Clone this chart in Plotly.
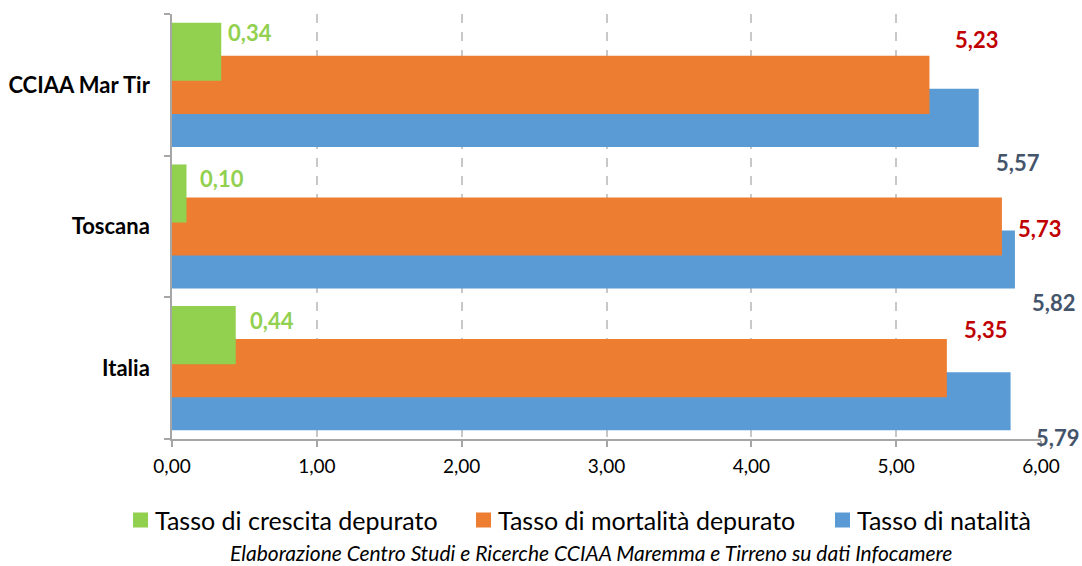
import plotly.graph_objects as go

# Data: territories (bottom to top) and the three rates
categories = ["Italia", "Toscana", "CCIAA Mar Tir"]
crescita = [0.44, 0.10, 0.34]
mortalita = [5.35, 5.73, 5.23]
natalita = [5.79, 5.82, 5.57]
x_ticks = [0, 1, 2, 3, 4, 5, 6]

series_names = ["Tasso di crescita depurato", "Tasso di mortalità depurato", "Tasso di natalità"]

# Styling
FONT = "Lato"
GREEN, ORANGE, BLUE = "#92D050", "#ED7D31", "#5B9BD5"
LABEL_GREEN, LABEL_RED, LABEL_BLUE = "#92D050", "#C00000", "#44546A"
BAR_W = 0.41

def fmt(v):
    return f"{v:.2f}".replace(".", ",")

fig = go.Figure()

# Drawn blue first, then orange, then green so the upper bars overlap the lower ones
bar_specs = [
    (series_names[2], natalita, BLUE, -0.438),
    (series_names[1], mortalita, ORANGE, -0.205),
    (series_names[0], crescita, GREEN, 0.028),
]
for name, vals, col, off in bar_specs:
    fig.add_trace(go.Bar(
        y=categories, x=vals, orientation="h", name=name,
        marker=dict(color=col, line=dict(width=0)),
        width=BAR_W, offset=off, showlegend=False,
    ))

# Value labels: pixel shifts from the bar end (dx) and category centre (dy, upward)
label_specs = [
    (crescita, LABEL_GREEN, [36, 36, 29], [48, 48, 52]),
    (mortalita, LABEL_RED, [39, 38, 47], [39, -2, 45]),
    (natalita, LABEL_BLUE, [47, 39, 39], [-69, -76, -78]),
]
for vals, col, dxs, dys in label_specs:
    for cat, v, dx, dy in zip(categories, vals, dxs, dys):
        fig.add_annotation(
            x=v, y=cat, xref="x", yref="y", text=f"<b>{fmt(v)}</b>",
            showarrow=False, xanchor="center", yanchor="middle",
            xshift=dx, yshift=dy,
            font=dict(family=FONT, size=22, color=col, weight="bold"),
        )

# Legend drawn as coloured squares with text
legend_items = [
    (series_names[0], GREEN, 133),
    (series_names[1], ORANGE, 476),
    (series_names[2], BLUE, 835),
]
W, H = 1082, 566
L, R, T, B = 172, 41, 14, 127
pw, ph = W - L - R, H - T - B

def px_x(p):
    return (p - L) / pw

def px_y(p):
    return (H - B - p) / ph

for name, col, x0 in legend_items:
    fig.add_shape(
        type="rect", xref="paper", yref="paper",
        x0=px_x(x0), x1=px_x(x0 + 15), y0=px_y(527.5), y1=px_y(512.5),
        fillcolor=col, line=dict(width=0),
    )
    fig.add_annotation(
        x=px_x(x0 + 20), y=px_y(520), xref="paper", yref="paper",
        text=name, showarrow=False, xanchor="left", yanchor="middle",
        font=dict(family=FONT, size=25, color="#000000"),
    )

fig.add_annotation(
    x=px_x(591), y=px_y(552), xref="paper", yref="paper",
    text="<i>Elaborazione Centro Studi e Ricerche CCIAA Maremma e Tirreno su dati Infocamere</i>",
    showarrow=False, xanchor="center", yanchor="middle",
    font=dict(family=FONT, size=21, color="#000000"),
)

fig.update_layout(
    width=W, height=H,
    margin=dict(l=L, r=R, t=T, b=B, autoexpand=False),
    paper_bgcolor="white", plot_bgcolor="white",
    barmode="overlay", showlegend=False,
    font=dict(family=FONT, color="#000000"),
)
fig.update_xaxes(
    range=[0, 6], tickvals=x_ticks,
    ticktext=[fmt(t) for t in x_ticks],
    showgrid=True, gridcolor="#c8c8c8", griddash="dash", gridwidth=1.5,
    showline=True, linecolor="#a6a6a6", linewidth=1.5,
    ticks="outside", ticklen=6, tickcolor="#a6a6a6", tickwidth=1.5,
    tickfont=dict(family=FONT, size=19, color="#000000"),
    ticklabelstandoff=3,
    zeroline=False, fixedrange=True, automargin=False,
)
fig.update_yaxes(
    type="category", categoryorder="array", categoryarray=categories,
    range=[-0.5, 2.5], showgrid=False,
    showline=True, linecolor="#a6a6a6", linewidth=1.5,
    ticks="outside", ticklen=6, tickcolor="#a6a6a6", tickwidth=1.5,
    tickson="boundaries", ticklabelstandoff=16,
    tickfont=dict(family=FONT, size=22, color="#000000", weight="bold"),
    fixedrange=True, automargin=False,
)

fig.write_html("out.html")
